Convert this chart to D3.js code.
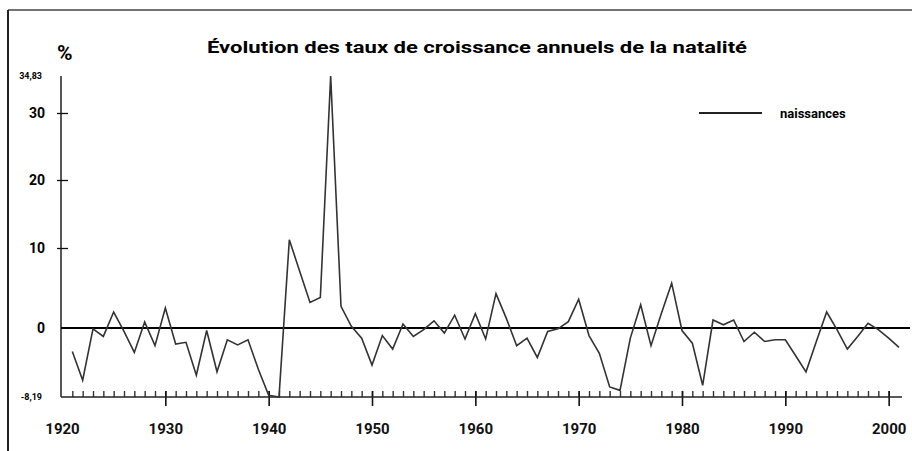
<!DOCTYPE html>
<html>
<head>
<meta charset="utf-8">
<script src="https://cdn.jsdelivr.net/npm/d3@7"></script>
<style>
body{margin:0;background:#fff;}
svg{display:block;font-family:Roboto,"Liberation Sans",sans-serif;}
</style>
</head>
<body>
<svg width="912" height="451"></svg>
<script>
// donnees
var years = d3.range(1921, 2002);
var naissances = [
 -2.8,-6.2,-0.1,-1.0,2.0,-0.4,-2.9,0.75,-2.1,2.5,
 -1.9,-1.7,-5.6,-0.3,-5.2,-1.4,-2.0,-1.4,-4.9,-8.0,
 -8.19,11.2,7.1,3.2,3.8,34.83,2.7,0.2,-1.2,-4.4,
 -0.9,-2.5,0.5,-1.0,-0.2,0.9,-0.6,1.6,-1.3,1.8,
 -1.3,4.3,1.2,-2.1,-1.2,-3.5,-0.4,-0.1,0.8,3.6,
 -0.9,-3.0,-7.0,-7.4,-1.2,2.9,-2.1,1.8,5.6,-0.3,
 -1.8,-6.8,1.0,0.4,1.0,-1.6,-0.5,-1.6,-1.4,-1.4,
 -3.3,-5.2,-1.6,2.0,-0.2,-2.5,-1.0,0.6,-0.2,-1.2,
 -2.3
];
var yTicks = [-8.19, 0, 10, 20, 30, 34.83];
var xTicks = [1920, 1930, 1940, 1950, 1960, 1970, 1980, 1990, 2000];

var svg = d3.select('svg');

var x = d3.scaleLinear().domain([1920, 2001]).range([62, 899]);
// echelle du scan (non tout a fait lineaire)
var y = d3.scaleLinear().domain([-8.19, 0, 10, 20, 30, 34.83]).range([397, 328, 248, 180, 113, 76]);

// cadre
svg.append('line').attr('x1',8).attr('y1',10).attr('x2',912).attr('y2',10).attr('stroke','#444').attr('stroke-width',1.6);
svg.append('line').attr('x1',8).attr('y1',10).attr('x2',8).attr('y2',451).attr('stroke','#222').attr('stroke-width',2);

// titre
svg.append('text').attr('x',207).attr('y',53).attr('font-size',16).attr('font-weight','bold')
  .attr('textLength',540).attr('lengthAdjust','spacingAndGlyphs')
  .text('Évolution des taux de croissance annuels de la natalité');
svg.append('text').attr('x',57).attr('y',60).attr('font-size',21).attr('font-weight','bold').text('%');

// axe y
var gy = svg.append('g').attr('transform','translate(61,0)');
gy.call(d3.axisLeft(y).tickValues(yTicks).tickSize(4).tickPadding(12)
  .tickFormat(function(d){ return String(d).replace('.', ','); }));
gy.select('.domain').remove();
gy.selectAll('text').attr('font-size',14).attr('font-weight','bold').attr('font-family','Roboto');
gy.selectAll('.tick').filter(function(d){ return d == 34.83 || d == -8.19; })
  .select('text').attr('font-size',9).attr('dx',-3);
gy.selectAll('.tick').filter(function(d){ return d == 34.83 || d == -8.19 || d == 0; })
  .select('line').remove();
gy.selectAll('line').attr('stroke','#111').attr('stroke-width',1.3);
var gy2 = svg.append('g').attr('transform','translate(61,0)');
gy2.call(d3.axisRight(y).tickValues([10,20,30]).tickSize(7).tickFormat(''));
gy2.select('.domain').remove();
gy2.selectAll('line').attr('stroke','#111').attr('stroke-width',1.3);
svg.append('line').attr('x1',61).attr('x2',61).attr('y1',y(34.83)).attr('y2',y(-8.19)).attr('stroke','#111').attr('stroke-width',1.4);

// axe x
var gxm = svg.append('g').attr('transform','translate(0,' + y(-8.19) + ')');
gxm.call(d3.axisBottom(x).tickValues(d3.range(1921, 2001)).tickSize(-6).tickFormat(''));
gxm.select('.domain').remove();
gxm.selectAll('line').attr('stroke','#333').attr('stroke-width',1.4);
var gx = svg.append('g').attr('transform','translate(0,' + y(-8.19) + ')');
gx.call(d3.axisBottom(x).tickValues(xTicks).tickSize(9).tickPadding(17).tickFormat(d3.format('d')));
gx.select('.domain').remove();
gx.selectAll('line').attr('stroke','#111').attr('stroke-width',1.6).attr('y1',-6);
gx.selectAll('text').attr('font-size',15).attr('font-weight','bold').attr('font-family','Roboto').attr('fill','#111');
gx.selectAll('.tick').filter(function(d){ return d == 1920; }).select('line').remove();
svg.append('line').attr('x1',61).attr('x2',902).attr('y1',y(-8.19)).attr('y2',y(-8.19)).attr('stroke','#222').attr('stroke-width',1.6);

// ligne zero
svg.append('line').attr('x1',61).attr('x2',910).attr('y1',y(0)).attr('y2',y(0)).attr('stroke','#000').attr('stroke-width',2.2);

// courbe
var line = d3.line().x(function(d,i){ return x(years[i]); }).y(function(d){ return y(d); });
svg.append('path').datum(naissances).attr('d',line).attr('fill','none').attr('stroke','#333').attr('stroke-width',1.6).attr('stroke-linejoin','miter');

// legende
svg.append('line').attr('x1',699).attr('x2',762).attr('y1',113).attr('y2',113).attr('stroke','#222').attr('stroke-width',2);
svg.append('text').attr('x',780).attr('y',118).attr('font-size',13).attr('font-weight','bold').text('naissances');
</script>
</body>
</html>
